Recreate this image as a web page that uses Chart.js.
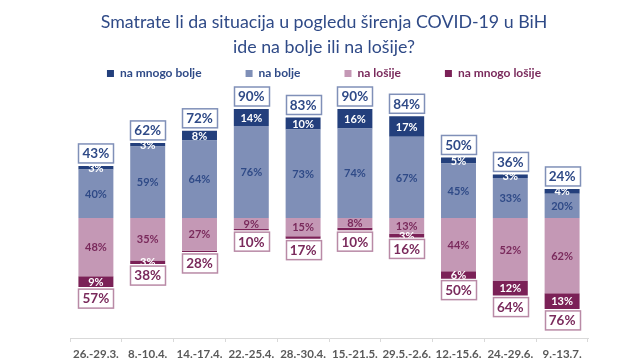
<!DOCTYPE html>
<html>
<head>
<meta charset="utf-8">
<script src="https://cdn.jsdelivr.net/npm/chart.js@4.4.1/dist/chart.umd.min.js"></script>
<style>
  html, body { margin: 0; padding: 0; background: #fff; }
  #wrap { width: 632px; height: 363px; }
</style>
</head>
<body>
<div id="wrap"><canvas id="myChart"></canvas></div>
<script>
const periodi = ['26.-29.3.', '8.-10.4.', '14.-17.4.', '22.-25.4.', '28.-30.4.', '15.-21.5.', '29.5.-2.6.', '12.-15.6.', '24.-29.6.', '9.-13.7.'];

const naMnogoBolje = [3, 3, 8, 14, 10, 16, 17, 5, 3, 4];
const naBolje = [40, 59, 64, 76, 73, 74, 67, 45, 33, 20];
const naLosije = [48, 35, 27, 9, 15, 8, 13, 44, 52, 62];
const naMnogoLosije = [9, 3, 1, 1, 2, 2, 3, 6, 12, 13];

// ukupno, kako pise u okvirima
const ukupnoBolje = [43, 62, 72, 90, 83, 90, 84, 50, 36, 24];
const ukupnoLosije = [57, 38, 28, 10, 17, 10, 16, 50, 64, 76];

Chart.defaults.font.family = 'Lato';

const plava = '#2f4a87';
const ljubicasta = '#7a2a5c';

// redoslijed u legendi: mnogo bolje, bolje, lošije, mnogo lošije
const legendaRed = [1, 0, 2, 3];

const oznake = {
    id: 'oznake',
    afterDatasetsDraw(chart) {
        const ctx = chart.ctx;
        ctx.save();
        ctx.textAlign = 'center';
        ctx.textBaseline = 'middle';

        // procenti u segmentima
        ctx.font = '700 11px Lato';
        chart.data.datasets.forEach((ds, i) => {
            const meta = chart.getDatasetMeta(i);
            meta.data.forEach((bar, j) => {
                const v = Math.abs(ds.data[j]);
                if (v < 3) return;
                ctx.fillStyle = ds.labelColor;
                ctx.fillText(v + '%', bar.x, (bar.y + bar.base) / 2 + 0.5);
            });
        });

        // okviri s ukupnim vrijednostima
        ctx.font = '700 13.5px Lato';
        const gore = chart.getDatasetMeta(1).data;
        const dole = chart.getDatasetMeta(3).data;
        periodi.forEach((p, j) => {
            okvir(ctx, ukupnoBolje[j] + '%', gore[j].x, gore[j].y - 3 - 19, '#8090b8', plava);
            okvir(ctx, ukupnoLosije[j] + '%', dole[j].x, dole[j].y + 2, '#b98aa6', ljubicasta);
        });
        ctx.restore();
    }
};

function okvir(ctx, tekst, x, top, rub, boja) {
    const w = Math.round(ctx.measureText(tekst).width + 8);
    const h = 19;
    const left = Math.round(x - w / 2) + 0.5;
    ctx.fillStyle = '#fff';
    ctx.fillRect(left, top, w, h);
    ctx.strokeStyle = rub;
    ctx.lineWidth = 1.5;
    ctx.strokeRect(left, top, w, h);
    ctx.fillStyle = boja;
    ctx.fillText(tekst, x, top + h / 2 + 0.5);
}

const data = {
    labels: periodi,
    datasets: [{
        label: 'na bolje',
        data: naBolje,
        backgroundColor: '#7f8fb7',
        labelColor: plava,
        borderWidth: 0
    }, {
        label: 'na mnogo bolje',
        data: naMnogoBolje,
        backgroundColor: '#233f7c',
        labelColor: '#ffffff',
        borderWidth: 0
    }, {
        label: 'na lošije',
        data: naLosije.map(v => -v),
        backgroundColor: '#c498b5',
        labelColor: ljubicasta,
        borderWidth: 0
    }, {
        label: 'na mnogo lošije',
        data: naMnogoLosije.map(v => -v),
        backgroundColor: '#7b2157',
        labelColor: '#ffffff',
        borderWidth: 0
    }]
};

const config = {
    type: 'bar',
    data: data,
    options: {
        responsive: true,
        maintainAspectRatio: false,
        animation: false,
        layout: {
            padding: { left: 16, right: 0, top: 0, bottom: 0 }
        },
        datasets: {
            bar: { barPercentage: 0.675, categoryPercentage: 1 }
        },
        scales: {
            x: {
                stacked: true,
                grid: {
                    drawOnChartArea: false,
                    drawTicks: true,
                    tickLength: 4,
                    color: '#d9d9d9'
                },
                border: { color: '#d9d9d9' },
                ticks: {
                    color: '#595959',
                    font: { size: 11.5, weight: '700' },
                    padding: 5,
                    maxRotation: 0,
                    minRotation: 0,
                    autoSkip: false
                },
                afterFit: s => { s.height = 25; }
            },
            y: {
                stacked: true,
                min: -99,
                max: 106,
                ticks: { display: false, stepSize: 100 },
                border: { display: false },
                grid: {
                    drawTicks: false,
                    color: ctx => ctx.tick && ctx.tick.value === 0 ? '#d9d9d9' : 'rgba(0,0,0,0)'
                },
                afterFit: s => { s.width = 54; }
            },
            desno: {
                position: 'right',
                ticks: { display: false },
                border: { display: false },
                grid: { display: false },
                afterFit: s => { s.width = 44; }
            }
        },
        plugins: {
            title: {
                display: true,
                text: ['Smatrate li da situacija u pogledu širenja COVID-19 u BiH', 'ide na bolje ili na lošije?'],
                color: plava,
                font: { size: 17.8, weight: 'normal', lineHeight: 1.45 },
                padding: { top: 9, bottom: -37 }
            },
            legend: {
                display: true,
                labels: {
                    boxWidth: 7,
                    boxHeight: 7,
                    padding: 44,
                    font: { size: 12, weight: '700' },
                    sort: (a, b) => legendaRed[a.datasetIndex] - legendaRed[b.datasetIndex],
                    generateLabels(chart) {
                        const items = Chart.defaults.plugins.legend.labels.generateLabels(chart);
                        items.forEach(it => {
                            it.fontColor = it.datasetIndex < 2 ? plava : ljubicasta;
                            it.lineWidth = 0;
                        });
                        return items;
                    }
                }
            },
            tooltip: { enabled: false }
        }
    },
    plugins: [oznake]
};

const myChart = new Chart(
    document.getElementById('myChart'),
    config
);
</script>
</body>
</html>
